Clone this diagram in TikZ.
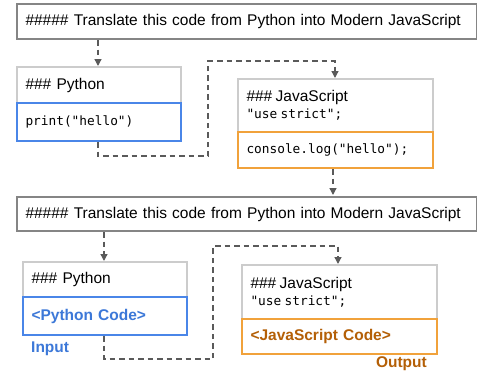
\documentclass[tikz,border=0pt]{standalone}
\usepackage{fontspec}
\setmainfont{Liberation Sans}
\setmonofont{DejaVu Sans Mono}
\usetikzlibrary{arrows.meta,calc}
\definecolor{topgray}{HTML}{858585}
\definecolor{lightgray}{HTML}{CCCCCC}
\definecolor{inblue}{HTML}{4A86E8}
\definecolor{intext}{HTML}{3C78D8}
\definecolor{outorange}{HTML}{F1A23B}
\definecolor{outtext}{HTML}{B45F06}
\definecolor{conn}{HTML}{5A5A5A}
\tikzset{
  hfont/.style={font=\fontsize{15.5}{18}\selectfont},
  cfont/.style={font=\fontsize{12.8}{17}\selectfont\ttfamily},
  box/.style={rectangle, anchor=north west, inner sep=0pt, inner xsep=8.5pt, align=left, text width=#1},
  topbox/.style={box=443pt, draw=topgray, line width=2pt, hfont, minimum width=460pt, minimum height=35pt},
  headbox/.style={draw=lightgray, line width=2pt, fill=white},
  inbox/.style={draw=inblue, line width=2pt, fill=white},
  outbox/.style={draw=outorange, line width=2pt, fill=white},
  conline/.style={draw=conn, line width=1.3pt, dash pattern=on 5.5pt off 4pt},
  conarrow/.style={conline, -{Triangle[width=7pt,length=7pt]}},
}
\begin{document}
\begin{tikzpicture}[x=1pt,y=-1pt]
\useasboundingbox (0,0) rectangle (477,375);
% first example
\node[topbox] (t1) at (16,3) {\#\#\#\#\# Translate this code from Python into Modern JavaScript};
\node[box=147pt, headbox, hfont, minimum width=164pt, minimum height=36pt] (py1) at (16,66) {\#\#\# Python};
\node[box=147pt, inbox, cfont, minimum width=164pt, minimum height=38pt] (pyc1) at (16,102) {print("hello")};
\node[box=178pt, headbox, minimum width=195pt, minimum height=53pt] (js1) at (237,78) {{\fontsize{15.5}{18}\selectfont \#\#\# JavaScript}\\[3pt]{\fontsize{12.8}{16}\selectfont\ttfamily "use strict";}};
\node[box=178pt, outbox, cfont, minimum width=195pt, minimum height=36pt] (jsc1) at (237,131) {console.log("hello");};
\draw[conarrow] (t1.south -| 98,0) -- (py1.north -| 98,0);
\draw[conarrow] (pyc1.south -| 98,0) -- (98,156) -- (208,156) -- (208,61) -- (335,61) -- (js1.north -| 335,0);
\draw[conarrow] (jsc1.south -| 333,0) -- (333,195);
% second template
\node[topbox, minimum height=34pt] (t2) at (16,196) {\#\#\#\#\# Translate this code from Python into Modern JavaScript};
\node[box=147pt, headbox, hfont, minimum width=164pt, minimum height=35pt] (py2) at (22,261) {\#\#\# Python};
\node[box=147pt, inbox, hfont, minimum width=164pt, minimum height=38pt, text=intext] (pyc2) at (22,296) {\bfseries <Python Code>};
\node[box=178pt, headbox, minimum width=195pt, minimum height=54pt] (js2) at (241,264) {{\fontsize{15.5}{18}\selectfont \#\#\# JavaScript}\\[3pt]{\fontsize{12.8}{16}\selectfont\ttfamily "use strict";}};
\node[box=178pt, outbox, hfont, minimum width=195pt, minimum height=35pt, text=outtext] (jsc2) at (241,318) {\bfseries <JavaScript Code>};
\node[hfont, text=intext, anchor=west, inner sep=0pt] (inlbl) at (31,349) {\bfseries Input};
\node[hfont, text=outtext, anchor=east, inner sep=0pt] (outlbl) at (427,364) {\bfseries Output};
\draw[conarrow] (t2.south -| 104,0) -- (py2.north -| 104,0);
\draw[conarrow] (pyc2.south -| 104,0) -- (104,359) -- (213,359) -- (213,246) -- (338,246) -- (js2.north -| 338,0);
\end{tikzpicture}
\end{document}
